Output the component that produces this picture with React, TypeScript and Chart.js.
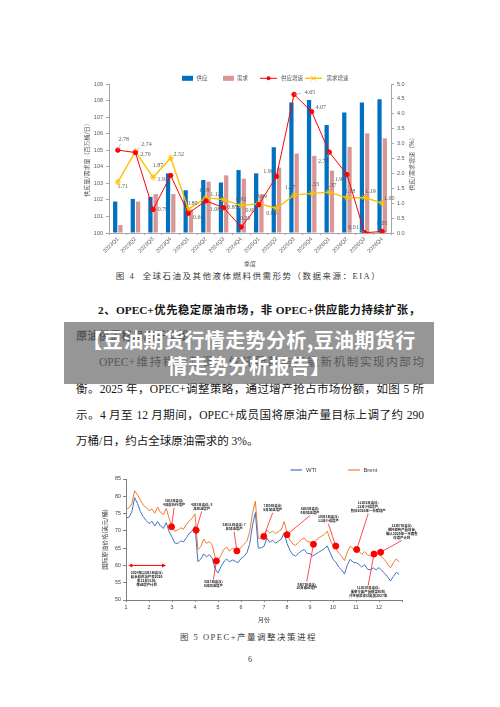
import React, { useEffect, useRef } from 'react';
import { Chart, registerables } from 'chart.js';

Chart.register(...registerables);

const CJK = '"Noto Sans CJK SC", sans-serif';
const SANS = '"Liberation Sans", "Noto Sans CJK SC", sans-serif';
const SERIF = '"Liberation Serif", "Noto Sans CJK SC", serif';

// ---------- Figure 4 data ----------
const quarters = ['2023Q1', '2023Q2', '2023Q3', '2023Q4', '2024Q1', '2024Q2', '2024Q3', '2024Q4',
  '2025Q1', '2025Q2', '2025Q3', '2025Q4', '2026Q1', '2026Q2', '2026Q3', '2026Q4'];
const supply = [101.9, 102.06, 102.18, 103.6, 102.58, 103.2, 103.05, 103.8, 103.6, 105.18, 107.88, 108.04, 106.52, 107.28, 107.88, 108.08];
const demand = [100.48, 101.9, 102.35, 102.35, 101.4, 103.1, 103.48, 103.28, 102.32, 103.95, 104.8, 104.66, 103.77, 105.2, 106.02, 105.72];
const supplyGrowth = [2.78, 2.70, 0.79, 1.93, 0.66, 1.08, 0.85, 0.20, 0.95, 1.90, 4.65, 4.07, 2.71, 1.96, 0.01, 0.05];
const demandGrowth = [1.71, 2.74, 1.87, 2.52, 0.80, 1.18, 1.12, 0.92, 0.99, 0.83, 1.27, 1.33, 1.37, 1.18, 1.19, 1.00];

// label placement for growth values: [dx, dy, leader]
const supplyLabelPos: [number, number, number][] = [
  [6, -11, 1], [10, 2, 0], [10, 0, 0], [-8, 4, 0], [10, 4, 0], [9, 9, 0], [9, 0, 0], [4, -9, 0],
  [-8, 6, 0], [-8, -5, 0], [16, -2, 1], [9, -4, 0], [-6, 9, 1], [-7, 5, 0], [-11, -5, 1], [0, -8, 0]];
const demandLabelPos: [number, number, number][] = [
  [5, 4, 0], [11, -7, 1], [5, -12, 0], [8, -3, 0], [4, -6, 0], [-2, -7, 0], [-8, -5, 0], [0, -6, 0],
  [3, -7, 0], [-5, 5, 0], [-4, -8, 0], [2, -9, 0], [2, -7, 0], [3, -6, 0], [6, -6, 0], [7, -5, 0]];

const SUPPLY_C = '#0070C0';
const DEMAND_C = '#D99694';
const SGROW_C = '#FF0000';
const DGROW_C = '#FFC000';

// ---------- Figure 5 data ----------
const priceMonths = Array.from({ length: 96 }, (_, k) => 1 + k / 8);
const brent = [
  76.3, 76.6, 77.8, 81.6, 80.4, 78.9, 77.4, 76.8,
  75.8, 76.3, 75.1, 76.9, 75.3, 74.7, 76.5, 73.6,
  71.2, 69.9, 70.2, 70.9, 70.5, 71.9, 72.9, 73.6,
  74.9, 64.6, 65.4, 67.6, 66.4, 66.9, 65.9, 62.4,
  61.4, 62.9, 64.6, 65.3, 64.1, 65.0, 64.5, 64.1,
  65.2, 66.1, 66.9, 69.6, 75.1, 78.6, 67.9, 67.7,
  68.6, 70.2, 69.4, 69.9, 69.2, 69.8, 70.3, 72.7,
  69.4, 67.4, 66.2, 65.8, 66.7, 67.5, 67.9, 66.9,
  66.8, 66.3, 67.2, 67.9, 68.4, 69.0, 69.9, 67.4,
  65.8, 64.9, 63.5, 62.7, 61.4, 63.9, 65.6, 64.9,
  64.6, 64.1, 63.2, 64.0, 63.1, 62.7, 63.4, 62.9,
  63.6, 62.4, 61.6, 60.4, 59.3, 60.8, 61.9, 61.0];
const wti = [
  73.8, 73.9, 75.4, 79.6, 77.9, 75.6, 74.1, 73.0,
  72.1, 72.8, 71.4, 72.7, 71.4, 70.7, 72.4, 69.7,
  68.2, 66.5, 66.3, 67.1, 66.8, 68.0, 69.3, 69.9,
  71.4, 61.1, 61.8, 63.3, 62.5, 63.1, 62.1, 59.0,
  57.8, 59.6, 61.0, 61.9, 61.0, 61.6, 61.2, 60.8,
  62.0, 62.6, 63.6, 66.1, 71.6, 75.3, 65.0, 65.1,
  65.5, 67.9, 66.7, 67.3, 66.4, 67.0, 67.6, 69.4,
  66.4, 64.4, 63.1, 62.7, 63.5, 64.2, 64.6, 63.5,
  63.4, 62.7, 63.3, 63.8, 64.3, 64.9, 65.6, 63.7,
  61.8, 60.9, 59.5, 58.7, 57.5, 60.2, 61.8, 60.9,
  60.8, 60.3, 59.5, 60.2, 58.9, 58.7, 59.3, 58.7,
  59.4, 58.5, 57.7, 56.7, 55.5, 56.8, 58.0, 57.4];

const decisionMonths = [2.98, 4.05, 4.93, 5.82, 6.99, 8.0, 9.15, 10.12, 11.03, 11.78, 12.07];
const decisionPrices = [71.2, 70.2, 61.3, 64.2, 68.4, 68.9, 66.1, 65.6, 64.6, 63.3, 63.8];
const decisionNotes = [
  ['3月3日会议:', '4月起执行增产'],
  ['4月3日会议: 5', '月加速增产'],
  ['5月3日会议:', '6月加速增产'],
  ['5月31日会议: 7', '月加速增产'],
  ['7月5日会议:', '8月加速增产'],
  ['8月3日会议:', '9月加速增产'],
  ['9月7日会议:', '10月启动增产'],
  ['10月5日会议:', '11月小幅增产'],
  ['11月2日会议:', '12月小幅增产,', '暂停2026年一季度增产'],
  ['11月30日会议:', '重申全面产量框架机制,', '并将基准评估延至2027年'],
  ['12月7日会议:', '维持现有产量目标,', '确认2026年一季度暂', '停增产计划'],
];
// note anchor (month, price) for each note
const decisionNotePos = [
  [3.09, 78.1], [4.29, 77.0], [4.80, 54.6], [5.70, 71.1], [7.38, 76.6], [9.0, 75.8],
  [8.86, 54.0], [9.80, 73.4], [11.53, 76.9], [11.53, 52.3], [12.99, 69.7]];
const earlyNote = ['2024年12月5日会议:', '延长自愿减产至2026', '年12月31日;', '推迟增产计划'];
const earlyNotePos = [1.9, 56.2];
const earlySpan = [1.1, 2.74];
const earlySpanPrice = 60;

function drawStar(ctx: CanvasRenderingContext2D, x: number, y: number, r: number) {
  const d = r * 0.707;
  ctx.beginPath();
  ctx.moveTo(x - r, y); ctx.lineTo(x + r, y);
  ctx.moveTo(x - d, y - d); ctx.lineTo(x + d, y + d);
  ctx.moveTo(x - d, y + d); ctx.lineTo(x + d, y - d);
  ctx.stroke();
}

const fig4Plugin = {
  id: 'fig4Extras',
  afterDatasetsDraw(chart: any) {
    const ctx: CanvasRenderingContext2D = chart.ctx;
    ctx.save();
    ctx.font = `6px ${SERIF}`;
    ctx.fillStyle = '#595959';
    ctx.textAlign = 'center';
    ctx.textBaseline = 'middle';
    const sets: [number, number[], [number, number, number][]][] = [
      [2, supplyGrowth, supplyLabelPos], [3, demandGrowth, demandLabelPos]];
    for (const [di, vals, pos] of sets) {
      const meta = chart.getDatasetMeta(di);
      meta.data.forEach((pt: any, i: number) => {
        const [dx, dy, lead] = pos[i];
        const lx = pt.x + dx;
        const ly = pt.y + dy;
        if (lead) {
          ctx.strokeStyle = '#A6A6A6';
          ctx.lineWidth = 0.6;
          ctx.beginPath();
          ctx.moveTo(pt.x, pt.y);
          ctx.lineTo(pt.x + dx * 0.45, pt.y + dy * 0.55);
          ctx.stroke();
        }
        ctx.fillText(vals[i].toFixed(2), lx, ly);
      });
    }
    ctx.restore();
  },
  afterDraw(chart: any) {
    const ctx: CanvasRenderingContext2D = chart.ctx;
    const area = chart.chartArea;
    ctx.save();
    // legend
    const y = 12.3;
    ctx.font = `5.5px ${CJK}`;
    ctx.textBaseline = 'middle';
    ctx.textAlign = 'left';
    ctx.fillStyle = SUPPLY_C; ctx.fillRect(122, y - 2.5, 11, 5);
    ctx.fillStyle = '#595959'; ctx.fillText(chart.data.datasets[0].label, 136.5, y);
    ctx.fillStyle = DEMAND_C; ctx.fillRect(163, y - 2.5, 11, 5);
    ctx.fillStyle = '#595959'; ctx.fillText(chart.data.datasets[1].label, 177, y);
    ctx.strokeStyle = SGROW_C; ctx.lineWidth = 1;
    ctx.beginPath(); ctx.moveTo(200, y); ctx.lineTo(217, y); ctx.stroke();
    ctx.fillStyle = SGROW_C; ctx.beginPath(); ctx.arc(208.5, y, 2, 0, Math.PI * 2); ctx.fill();
    ctx.fillStyle = '#595959'; ctx.fillText(chart.data.datasets[2].label, 221, y);
    ctx.strokeStyle = DGROW_C; ctx.lineWidth = 1.3;
    ctx.beginPath(); ctx.moveTo(245, y); ctx.lineTo(262, y); ctx.stroke();
    ctx.lineWidth = 1; drawStar(ctx, 253.5, y, 3.2);
    ctx.fillStyle = '#595959'; ctx.fillText(chart.data.datasets[3].label, 266.5, y);
    // right axis title (reads bottom to top)
    ctx.translate(352, (area.top + area.bottom) / 2 + 4);
    ctx.rotate(-Math.PI / 2);
    ctx.textAlign = 'center';
    ctx.font = `6px ${CJK}`;
    ctx.fillText('供应/需求增速（%）', 0, 0);
    ctx.restore();
  },
};

function Fig4() {
  const ref = useRef<HTMLCanvasElement>(null);
  useEffect(() => {
    const tickFont = { size: 5.5, family: SANS };
    const chart = new Chart(ref.current!, {
      type: 'bar',
      data: {
        labels: quarters,
        datasets: [
          { type: 'bar', label: '供应', data: supply, backgroundColor: SUPPLY_C, yAxisID: 'y', order: 2, barPercentage: 0.8, categoryPercentage: 0.6, base: 100 } as any,
          { type: 'bar', label: '需求', data: demand, backgroundColor: DEMAND_C, yAxisID: 'y', order: 2, barPercentage: 0.8, categoryPercentage: 0.6, base: 100 } as any,
          { type: 'line', label: '供应增速', data: supplyGrowth, borderColor: SGROW_C, backgroundColor: SGROW_C, borderWidth: 1, pointRadius: 2.2, pointStyle: 'circle', yAxisID: 'y1', order: 1 },
          { type: 'line', label: '需求增速', data: demandGrowth, borderColor: DGROW_C, backgroundColor: DGROW_C, borderWidth: 1.4, pointRadius: 3.3, pointStyle: 'star', pointBorderWidth: 1, yAxisID: 'y1', order: 1 },
        ],
      },
      options: {
        responsive: false,
        animation: false,
        layout: { padding: { top: 18, left: 0, right: 0, bottom: 0 } },
        plugins: { legend: { display: false }, tooltip: { enabled: false } },
        scales: {
          x: {
            grid: { drawOnChartArea: false, tickLength: 2, color: '#A6A6A6' },
            border: { color: '#A6A6A6' },
            ticks: { font: tickFont, color: '#595959', maxRotation: 45, minRotation: 45, padding: 1, autoSkip: false },
            title: { display: true, text: '季度', font: { size: 6, family: CJK }, color: '#595959', padding: { top: 0, bottom: 3 } },
            afterFit: (s: any) => { s.height = 37; },
          },
          y: {
            position: 'left', min: 100, max: 109,
            ticks: { stepSize: 1, font: tickFont, color: '#595959', padding: 3 },
            grid: { drawOnChartArea: false, tickLength: 3, color: '#A6A6A6' },
            border: { color: '#A6A6A6' },
            title: { display: true, text: '供应量/需求量（百万桶/日）', font: { size: 6, family: CJK }, color: '#595959', padding: { top: 23, bottom: 0 } },
            afterFit: (s: any) => { s.width = 49; },
          },
          y1: {
            position: 'right', min: 0, max: 5,
            ticks: { stepSize: 0.5, font: tickFont, color: '#595959', padding: 3, callback: (v: any) => Number(v).toFixed(1) },
            grid: { drawOnChartArea: false, tickLength: 3, color: '#A6A6A6' },
            border: { color: '#A6A6A6' },
            afterFit: (s: any) => { s.width = 39; },
          },
        },
      } as any,
      plugins: [fig4Plugin],
    });
    return () => chart.destroy();
  }, []);
  return <canvas ref={ref} width={370} height={204} style={{ position: 'absolute', left: 60, top: 66, width: 370, height: 204 }} />;
}

const fig5Plugin = {
  id: 'fig5Extras',
  afterDatasetsDraw(chart: any) {
    const ctx: CanvasRenderingContext2D = chart.ctx;
    const xs = chart.scales.x;
    const ys = chart.scales.y;
    const lh = 3.9;
    ctx.save();
    ctx.font = `bold 3.4px ${CJK}`;
    ctx.textAlign = 'center';
    ctx.textBaseline = 'middle';
    decisionNotes.forEach((lines, i) => {
      const dx = xs.getPixelForValue(decisionMonths[i]);
      const dy = ys.getPixelForValue(decisionPrices[i]);
      const lx = xs.getPixelForValue(decisionNotePos[i][0]);
      const ly = ys.getPixelForValue(decisionNotePos[i][1]);
      const h = lines.length * lh;
      const ey = ly < dy ? ly + h / 2 + 0.8 : ly - h / 2 - 0.8;
      ctx.strokeStyle = '#FF0000';
      ctx.lineWidth = 0.7;
      ctx.beginPath(); ctx.moveTo(dx, dy); ctx.lineTo(lx, ey); ctx.stroke();
      ctx.fillStyle = '#1f1f1f';
      lines.forEach((t, k) => ctx.fillText(t, lx, ly - h / 2 + lh * (k + 0.5)));
    });
    // early double arrow
    const ax0 = xs.getPixelForValue(earlySpan[0]);
    const ax1 = xs.getPixelForValue(earlySpan[1]);
    const ay = ys.getPixelForValue(earlySpanPrice);
    ctx.strokeStyle = '#FF0000';
    ctx.fillStyle = '#FF0000';
    ctx.lineWidth = 1;
    ctx.beginPath(); ctx.moveTo(ax0 + 2, ay); ctx.lineTo(ax1 - 2, ay); ctx.stroke();
    ctx.beginPath(); ctx.moveTo(ax0, ay); ctx.lineTo(ax0 + 4, ay - 2); ctx.lineTo(ax0 + 4, ay + 2); ctx.closePath(); ctx.fill();
    ctx.beginPath(); ctx.moveTo(ax1, ay); ctx.lineTo(ax1 - 4, ay - 2); ctx.lineTo(ax1 - 4, ay + 2); ctx.closePath(); ctx.fill();
    const ex = xs.getPixelForValue(earlyNotePos[0]);
    const ey = ys.getPixelForValue(earlyNotePos[1]);
    ctx.fillStyle = '#1f1f1f';
    const h = earlyNote.length * lh;
    earlyNote.forEach((t, k) => ctx.fillText(t, ex, ey - h / 2 + lh * (k + 0.5)));
    ctx.restore();
  },
  afterDraw(chart: any) {
    const ctx: CanvasRenderingContext2D = chart.ctx;
    ctx.save();
    const y = 12;
    ctx.font = `5.8px ${SANS}`;
    ctx.textBaseline = 'middle';
    ctx.textAlign = 'left';
    ctx.lineWidth = 1.2;
    ctx.strokeStyle = chart.data.datasets[0].borderColor;
    ctx.beginPath(); ctx.moveTo(200.5, y); ctx.lineTo(212, y); ctx.stroke();
    ctx.fillStyle = '#404040'; ctx.fillText(chart.data.datasets[0].label, 216, y);
    ctx.strokeStyle = chart.data.datasets[1].borderColor;
    ctx.beginPath(); ctx.moveTo(258, y); ctx.lineTo(270, y); ctx.stroke();
    ctx.fillText(chart.data.datasets[1].label, 273.5, y);
    ctx.restore();
  },
};

function Fig5() {
  const ref = useRef<HTMLCanvasElement>(null);
  useEffect(() => {
    const tickFont = { size: 5.3, family: SANS };
    const chart = new Chart(ref.current!, {
      type: 'line',
      data: {
        datasets: [
          { label: 'WTI', data: priceMonths.map((m, i) => ({ x: m, y: wti[i] })), borderColor: '#4472C4', borderWidth: 1, pointRadius: 0, order: 1 },
          { label: 'Brent', data: priceMonths.map((m, i) => ({ x: m, y: brent[i] })), borderColor: '#ED7D31', borderWidth: 1, pointRadius: 0, order: 1 },
          { type: 'scatter', label: '会议', data: decisionMonths.map((m, i) => ({ x: m, y: decisionPrices[i] })), pointRadius: 3, backgroundColor: '#FF0000', borderColor: '#FF0000', order: 0 } as any,
        ],
      },
      options: {
        responsive: false,
        animation: false,
        layout: { padding: { top: 21, right: 28, left: 0, bottom: 0 } },
        plugins: { legend: { display: false }, tooltip: { enabled: false } },
        scales: {
          x: {
            type: 'linear', min: 1, max: 13,
            ticks: { stepSize: 1, font: tickFont, color: '#404040', padding: 2, callback: (v: any) => (v <= 12 ? String(v) : '') },
            grid: { drawOnChartArea: false, tickLength: 2, color: '#7f7f7f' },
            border: { color: '#7f7f7f' },
            title: { display: true, text: '月份', font: { size: 6, family: CJK }, color: '#404040', padding: { top: 0, bottom: 4.9 } },
            afterFit: (s: any) => { s.height = 28; },
          },
          y: {
            min: 50, max: 85,
            ticks: { stepSize: 5, font: tickFont, color: '#404040', padding: 2 },
            grid: { drawOnChartArea: false, tickLength: 3, color: '#7f7f7f' },
            border: { color: '#7f7f7f' },
            title: { display: true, text: '国际原油价格(美元/桶)', font: { size: 6, family: CJK }, color: '#404040', padding: { top: 11.4, bottom: 0 } },
            afterFit: (s: any) => { s.width = 36; },
          },
        },
      } as any,
      plugins: [fig5Plugin],
    });
    return () => chart.destroy();
  }, []);
  return <canvas ref={ref} width={340} height={170} style={{ position: 'absolute', left: 90, top: 458, width: 340, height: 170 }} />;
}

function TextLine(props: { top: number; left: number; width?: number; bold?: boolean; justify?: boolean; children: React.ReactNode }) {
  return (
    <div style={{
      position: 'absolute', top: props.top - 8, left: props.left, width: props.width,
      lineHeight: '16px', fontSize: props.bold ? 11.3 : 11.5, fontWeight: props.bold ? 700 : 400,
      whiteSpace: 'nowrap', textAlign: props.justify ? 'justify' : 'left',
      textAlignLast: props.justify ? 'justify' : 'left', color: '#151515',
    } as any}>{props.children}</div>
  );
}

export default function App() {
  const caption: React.CSSProperties = {
    position: 'absolute', left: 0, width: 497, textAlign: 'center', fontSize: 8.5,
    letterSpacing: '1.5px', lineHeight: '12px', color: '#3a3a3a', whiteSpace: 'nowrap',
  };
  return (
    <div style={{ position: 'absolute', left: 0, top: 0, width: 500, height: 707, background: '#fff', overflow: 'hidden', fontFamily: SERIF }}>
      <Fig4 />
      <div style={{ ...caption, top: 270 }}>图 4&nbsp;&nbsp;全球石油及其他液体燃料供需形势（数据来源：EIA）</div>
      <TextLine top={310} left={98} width={322} bold justify>2、OPEC+优先稳定原油市场，非 OPEC+供应能力持续扩张，</TextLine>
      <TextLine top={336} left={76} bold>原油供需格局趋于宽松</TextLine>
      <TextLine top={362} left={99} width={325} justify>OPEC+维持稳产基调，依托配额与产能新机制实现内部均</TextLine>
      <TextLine top={389} left={76} width={348} justify>衡。2025 年，OPEC+调整策略，通过增产抢占市场份额，如图 5 所</TextLine>
      <TextLine top={415} left={76} width={348} justify>示。4 月至 12 月期间，OPEC+成员国将原油产量目标上调了约 290</TextLine>
      <TextLine top={441} left={76}>万桶/日，约占全球原油需求的 3%。</TextLine>
      <div style={{
        position: 'absolute', left: 64, top: 322, width: 370, height: 62, boxSizing: 'border-box',
        background: 'rgba(110,110,110,0.72)', color: '#fff', fontFamily: CJK, fontWeight: 700,
        fontSize: 20, lineHeight: '26px', textAlign: 'center', paddingTop: 5, letterSpacing: '0.4px', whiteSpace: 'nowrap',
      }}>
        【豆油期货行情走势分析,豆油期货行<br />情走势分析报告】
      </div>
      <Fig5 />
      <div style={{ ...caption, top: 631 }}>图 5 OPEC+产量调整决策进程</div>
      <div style={{ ...caption, top: 654, fontSize: 8, letterSpacing: 0, width: 500 }}>6</div>
    </div>
  );
}
